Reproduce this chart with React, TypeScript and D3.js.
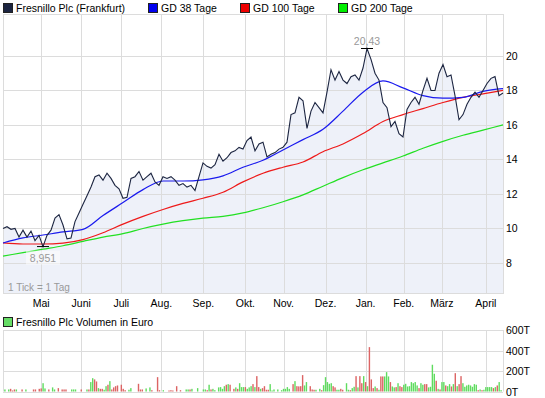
import React from 'react';
import * as d3 from 'd3';

// closing prices, one value every 2 trading days (left to right)
const price = [
  10.0, 10.1, 9.95, 10.0, 9.5, 9.9, 9.5, 9.85, 9.3, 9.6, 8.951, 9.6, 9.9, 10.6, 10.8, 10.2,
  9.4, 9.45, 10.4, 10.9, 11.4, 11.9, 12.4, 13.0, 13.1, 12.8, 13.2, 12.9, 12.5, 12.3, 11.75, 11.8,
  12.9, 13.0, 13.3, 12.8, 13.0, 13.2, 12.7, 12.5, 13.0, 12.9, 13.0, 12.8, 12.5, 12.6, 12.4, 12.5,
  12.2, 13.0, 13.8, 13.6, 13.5, 13.7, 14.3, 13.9, 14.1, 14.4, 14.5, 14.7, 14.6, 15.1, 15.3, 14.5,
  14.9, 15.0, 14.15, 14.3, 14.4, 14.6, 14.7, 15.0, 16.6, 16.7, 17.6, 17.4, 15.8, 16.8, 17.3, 17.0,
  16.7, 17.9, 19.2, 18.6, 19.1, 18.6, 18.4, 18.8, 18.9, 18.6, 19.3, 20.43, 19.8, 19.0, 18.6, 17.3,
  17.0, 15.9, 16.2, 15.5, 15.3, 16.9, 17.3, 17.6, 17.2, 18.0, 18.7, 18.0, 18.0, 19.0, 19.5, 18.8,
  18.9, 17.7, 16.3, 16.6, 17.2, 17.6, 17.9, 17.6, 18.0, 18.4, 18.7, 18.8, 17.7, 17.85,
];

// moving averages, one value every ~10 trading days
const gd38 = [9.16, 9.45, 9.62, 9.8, 9.95, 10.75, 11.5, 12.25, 12.75, 12.75, 12.82, 13.05, 13.55,
  13.95, 14.55, 15.15, 15.75, 16.8, 17.9, 18.55, 18.15, 17.7, 17.55, 17.6, 17.95, 18.1];
const gd100 = [9.16, 9.1, 9.1, 9.15, 9.35, 9.75, 10.25, 10.7, 11.1, 11.45, 11.75, 12.1, 12.7,
  13.2, 13.55, 13.85, 14.45, 14.9, 15.5, 16.2, 16.6, 16.95, 17.3, 17.6, 17.8, 18.0];
const gd200 = [8.4, 8.6, 8.8, 9.0, 9.25, 9.5, 9.7, 10.0, 10.25, 10.45, 10.6, 10.7, 10.9,
  11.2, 11.55, 11.95, 12.45, 12.95, 13.4, 13.8, 14.2, 14.65, 15.05, 15.4, 15.7, 16.0];

// volume bars: [trading day, volume in T, g = up / r = down]
const volumeBars: [number, number, string][] = [
  [1, 20, 'g'], [3, 20, 'g'], [4, 26, 'r'], [5, 10, 'r'], [6, 20, 'r'], [7, 20, 'g'], [10, 20, 'r'], [12, 20, 'g'],
  [16, 20, 'r'], [17, 20, 'r'], [19, 26, 'r'], [20, 30, 'r'], [21, 81, 'g'], [22, 30, 'g'], [24, 20, 'r'], [26, 40, 'g'],
  [27, 20, 'g'], [29, 33, 'r'], [31, 20, 'r'], [32, 20, 'r'], [33, 20, 'r'], [36, 20, 'g'], [37, 20, 'g'], [38, 20, 'g'],
  [41, 20, 'r'], [44, 20, 'g'], [45, 20, 'r'], [46, 92, 'g'], [47, 130, 'g'], [48, 118, 'r'], [49, 98, 'r'], [50, 33, 'g'],
  [51, 26, 'r'], [52, 26, 'r'], [53, 17, 'g'], [54, 52, 'g'], [55, 66, 'r'], [56, 101, 'g'], [57, 20, 'r'], [58, 40, 'r'],
  [59, 52, 'r'], [60, 59, 'r'], [62, 66, 'r'], [63, 26, 'r'], [64, 13, 'r'], [66, 17, 'g'], [67, 33, 'g'], [71, 75, 'r'],
  [72, 20, 'r'], [73, 20, 'r'], [75, 30, 'g'], [77, 40, 'g'], [78, 13, 'r'], [81, 140, 'r'], [82, 13, 'r'], [84, 13, 'g'],
  [87, 10, 'r'], [88, 13, 'r'], [89, 10, 'r'], [91, 52, 'r'], [93, 13, 'r'], [96, 20, 'g'], [97, 20, 'g'], [98, 20, 'r'],
  [99, 26, 'g'], [102, 33, 'g'], [105, 20, 'g'], [106, 20, 'g'], [107, 13, 'r'], [108, 66, 'g'], [109, 20, 'r'], [110, 26, 'g'],
  [111, 13, 'g'], [113, 40, 'g'], [114, 43, 'g'], [115, 26, 'g'], [116, 52, 'g'], [117, 66, 'r'], [118, 72, 'g'], [119, 66, 'r'],
  [121, 26, 'r'], [122, 40, 'g'], [123, 26, 'r'], [124, 81, 'g'], [125, 43, 'g'], [126, 43, 'g'], [127, 43, 'r'], [128, 26, 'g'],
  [129, 40, 'g'], [130, 52, 'g'], [131, 72, 'r'], [132, 43, 'g'], [133, 150, 'r'], [134, 43, 'r'], [135, 26, 'g'], [136, 33, 'r'],
  [137, 52, 'r'], [138, 17, 'r'], [139, 17, 'r'], [140, 72, 'g'], [141, 10, 'g'], [142, 20, 'g'], [144, 20, 'g'], [146, 13, 'g'],
  [147, 26, 'g'], [148, 26, 'g'], [149, 43, 'g'], [150, 26, 'g'], [152, 72, 'r'], [153, 101, 'g'], [154, 52, 'r'], [155, 50, 'r'],
  [156, 52, 'r'], [157, 160, 'r'], [158, 59, 'g'], [159, 92, 'g'], [161, 52, 'r'], [162, 20, 'r'], [163, 17, 'r'], [164, 17, 'g'],
  [166, 26, 'g'], [167, 13, 'r'], [168, 62, 'g'], [169, 140, 'g'], [170, 92, 'g'], [171, 75, 'g'], [172, 81, 'g'], [173, 52, 'r'],
  [174, 40, 'r'], [175, 17, 'g'], [176, 17, 'g'], [177, 26, 'r'], [178, 17, 'r'], [180, 81, 'g'], [181, 17, 'g'], [182, 13, 'r'],
  [183, 33, 'g'], [184, 46, 'g'], [185, 150, 'r'], [186, 40, 'g'], [187, 150, 'r'], [188, 81, 'r'], [189, 150, 'g'], [190, 92, 'r'],
  [191, 52, 'g'], [192, 433, 'r'], [193, 118, 'r'], [194, 33, 'r'], [195, 49, 'g'], [196, 33, 'r'], [197, 17, 'g'], [198, 147, 'r'],
  [199, 147, 'r'], [200, 147, 'g'], [201, 189, 'g'], [202, 147, 'g'], [203, 92, 'r'], [204, 49, 'g'], [205, 40, 'g'], [206, 43, 'r'],
  [207, 81, 'g'], [208, 52, 'r'], [209, 43, 'r'], [210, 66, 'g'], [211, 75, 'g'], [212, 49, 'g'], [213, 52, 'g'], [214, 92, 'g'],
  [215, 81, 'g'], [216, 92, 'g'], [217, 59, 'g'], [218, 33, 'r'], [219, 81, 'g'], [220, 66, 'g'], [221, 72, 'r'], [222, 72, 'r'],
  [223, 40, 'g'], [224, 46, 'g'], [225, 261, 'g'], [226, 173, 'g'], [227, 105, 'r'], [228, 26, 'g'], [229, 20, 'r'], [230, 92, 'g'],
  [231, 92, 'g'], [232, 59, 'r'], [233, 52, 'g'], [234, 72, 'g'], [235, 49, 'r'], [236, 72, 'g'], [237, 179, 'r'], [238, 52, 'g'],
  [239, 72, 'r'], [240, 150, 'r'], [241, 81, 'g'], [242, 46, 'g'], [243, 59, 'g'], [244, 66, 'g'], [245, 59, 'g'], [246, 46, 'g'],
  [247, 72, 'g'], [248, 66, 'g'], [249, 13, 'r'], [250, 20, 'g'], [251, 13, 'r'], [252, 17, 'g'], [253, 43, 'g'], [254, 43, 'g'],
  [255, 43, 'g'], [256, 43, 'g'], [257, 33, 'r'], [258, 43, 'g'], [259, 59, 'r'], [260, 92, 'g'], [261, 13, 'g'],
];
const TRADING_DAYS = 262;

const monthLabels = ['Mai', 'Juni', 'Juli', 'Aug.', 'Sep.', 'Okt.', 'Nov.', 'Dez.', 'Jan.', 'Feb.', 'März', 'April'];
const monthStartDay = [20, 41, 62, 83, 105, 127, 147, 169, 190, 210, 230, 253];
const priceTicks = [8, 10, 12, 14, 16, 18, 20];
const volumeTicks = [0, 200, 400, 600];

const legendItems = [
  { label: 'Fresnillo Plc (Frankfurt)', color: '#1c2541', x: 3 },
  { label: 'GD 38 Tage', color: '#0000ee', x: 148 },
  { label: 'GD 100 Tage', color: '#ee0000', x: 240 },
  { label: 'GD 200 Tage', color: '#00ee00', x: 338 },
];

const W = 545, H = 398;
const PLOT = { LEFT: 3, RIGHT: 503, TOP: 14, BOTTOM: 293 };
const VOL = { TOP: 330, BOTTOM: 391.5 };
const FONT = '"Liberation Sans", Arial, sans-serif';
const GRID = '#dcdcdc';

const fmt = (v: number) => String(v).replace('.', ',');

export default function App() {
  const xDay = d3.scaleLinear().domain([0, TRADING_DAYS]).range([PLOT.LEFT, PLOT.RIGHT]);
  const xPrice = d3.scaleLinear().domain([0, price.length - 1]).range([PLOT.LEFT, PLOT.RIGHT]);
  const xMa = d3.scaleLinear().domain([0, gd38.length - 1]).range([PLOT.LEFT, PLOT.RIGHT]);
  const y = d3.scaleLinear().domain([6.26, 22.43]).range([PLOT.BOTTOM, PLOT.TOP]);
  const yVol = d3.scaleLinear().domain([0, 600]).range([VOL.BOTTOM, VOL.TOP]);

  const priceLine = d3.line<number>().x((_, i) => xPrice(i)).y(d => y(d));
  const priceArea = d3.area<number>().x((_, i) => xPrice(i)).y0(PLOT.BOTTOM).y1(d => y(d));
  const maLine = d3.line<number>().x((_, i) => xMa(i)).y(d => y(d)).curve(d3.curveMonotoneX);

  const maxI = d3.maxIndex(price), minI = d3.minIndex(price);
  const maxX = xPrice(maxI), maxY = y(price[maxI]);
  const minX = xPrice(minI), minY = y(price[minI]);

  return (
    <svg width={W} height={H} style={{ position: 'fixed', left: 0, top: 0, background: '#fff' }}
      fontFamily={FONT} fontSize={10.5}>
      {/* legend */}
      {legendItems.map(l => (
        <g key={l.label}>
          <rect x={l.x + 0.5} y={3.5} width={9} height={9} fill={l.color} stroke='#222' />
          <text x={l.x + 13} y={12}>{l.label}</text>
        </g>
      ))}

      {/* price panel */}
      <path d={priceArea(price) || ''} fill='#eef1f9' />
      {priceTicks.map(t => (
        <line key={`hg-${t}`} x1={PLOT.LEFT} x2={PLOT.RIGHT} y1={Math.round(y(t)) + 0.5} y2={Math.round(y(t)) + 0.5} stroke={GRID} />
      ))}
      {monthStartDay.map((d, i) => (
        <line key={`vg-${i}`} x1={Math.round(xDay(d)) + 0.5} x2={Math.round(xDay(d)) + 0.5} y1={PLOT.TOP} y2={PLOT.BOTTOM} stroke={GRID} />
      ))}
      <rect x={PLOT.LEFT + 0.5} y={PLOT.TOP + 0.5} width={PLOT.RIGHT - PLOT.LEFT} height={PLOT.BOTTOM - PLOT.TOP} fill='none' stroke={GRID} />

      <path d={maLine(gd200) || ''} fill='none' stroke='#22e022' strokeWidth={1.2} />
      <path d={maLine(gd100) || ''} fill='none' stroke='#ee1a1a' strokeWidth={1.2} />
      <path d={maLine(gd38) || ''} fill='none' stroke='#1a1aee' strokeWidth={1.2} />
      <path d={priceLine(price) || ''} fill='none' stroke='#1c2541' strokeWidth={1.1} />

      {/* high / low markers */}
      <line x1={maxX - 6} x2={maxX + 6} y1={maxY} y2={maxY} stroke='#000' />
      <text x={maxX} y={maxY - 4} textAnchor='middle' fill='#999'>{fmt(price[maxI])}</text>
      <line x1={minX - 6} x2={minX + 6} y1={minY} y2={minY} stroke='#000' />
      <rect x={minX - 17} y={minY + 4} width={34} height={14} fill='#fff' fillOpacity={0.5} />
      <text x={minX} y={minY + 15} textAnchor='middle' fill='#999'>{fmt(price[minI])}</text>

      <text x={8} y={291} fill='#999' fontSize={10}>1 Tick = 1 Tag</text>

      {priceTicks.map(t => (
        <text key={`yl-${t}`} x={506} y={y(t) + 4}>{t}</text>
      ))}
      {monthLabels.map((m, i) => (
        <text key={`ml-${m}`} x={xDay(monthStartDay[i])} y={307} textAnchor='middle'>{m}</text>
      ))}

      {/* volume panel */}
      <rect x={3.5} y={317.5} width={9} height={9} fill='#66dd66' stroke='#222' />
      <text x={16} y={326}>Fresnillo Plc Volumen in Euro</text>
      {volumeTicks.map(t => (
        <line key={`vh-${t}`} x1={PLOT.LEFT} x2={PLOT.RIGHT} y1={Math.round(yVol(t)) + 0.5} y2={Math.round(yVol(t)) + 0.5} stroke={GRID} />
      ))}
      {monthStartDay.map((d, i) => (
        <line key={`vv-${i}`} x1={Math.round(xDay(d)) + 0.5} x2={Math.round(xDay(d)) + 0.5} y1={VOL.TOP} y2={VOL.BOTTOM} stroke={GRID} />
      ))}
      <line x1={PLOT.LEFT + 0.5} x2={PLOT.LEFT + 0.5} y1={VOL.TOP} y2={VOL.BOTTOM} stroke={GRID} />
      <line x1={PLOT.RIGHT + 0.5} x2={PLOT.RIGHT + 0.5} y1={VOL.TOP} y2={VOL.BOTTOM} stroke={GRID} />
      {volumeBars.map(([day, v, dir]) => (
        <rect key={`vb-${day}`} x={xDay(day) - 0.7} y={yVol(v)} width={1.4} height={VOL.BOTTOM - yVol(v)}
          fill={dir === 'g' ? '#5fdc5f' : '#dc6464'} />
      ))}
      {volumeTicks.map(t => (
        <text key={`vl-${t}`} x={506} y={yVol(t) + 4}>{`${t}T`}</text>
      ))}
    </svg>
  );
}
